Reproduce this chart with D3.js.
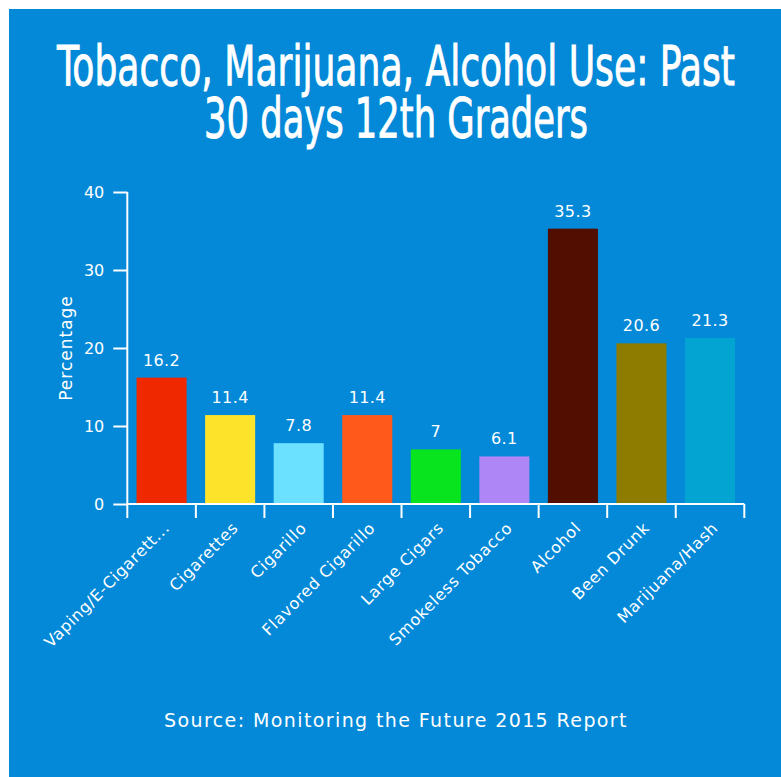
<!DOCTYPE html>
<html>
<head>
<meta charset="utf-8">
<script src="https://cdn.jsdelivr.net/npm/d3@7"></script>
<style>
  html, body { margin: 0; padding: 0; background: #ffffff; }
  svg { display: block; }
</style>
</head>
<body>
<svg id="chart" width="781" height="777"></svg>
<script>
// Past-30-day use among 12th graders, percent
const categories = [
  "Vaping/E-Cigarett...", "Cigarettes", "Cigarillo", "Flavored Cigarillo",
  "Large Cigars", "Smokeless Tobacco", "Alcohol", "Been Drunk", "Marijuana/Hash"
];
const values = [16.2, 11.4, 7.8, 11.4, 7, 6.1, 35.3, 20.6, 21.3];
const barColors = [
  "#f02800", "#fde42b", "#6ce0ff", "#ff5a1c", "#08e41e",
  "#ae86f6", "#520e00", "#8e7c00", "#03a4d2"
];
const yTicks = [0, 10, 20, 30, 40];
const titleLines = ["Tobacco, Marijuana, Alcohol Use: Past", "30 days 12th Graders"];
const yAxisTitle = "Percentage";
const sourceNote = "Source: Monitoring the Future 2015 Report";

const bg = "#0389d7";
const bodyFont = "'DejaVu Sans', sans-serif";
const titleFont = "'Liberation Sans Narrow', 'DejaVu Sans Condensed', sans-serif";

const svg = d3.select("#chart");

// blue panel
svg.append("rect")
  .attr("x", 9).attr("y", 9)
  .attr("width", 781 - 9).attr("height", 777 - 9)
  .attr("fill", bg);

// title: two centred lines, each squeezed horizontally to its width
const titleWidths = [678, 384];
titleLines.forEach((line, i) => {
  const t = svg.append("text")
    .attr("x", 0)
    .attr("y", 85 + i * 52)
    .attr("text-anchor", "middle")
    .attr("fill", "#ffffff")
    .attr("stroke", "#ffffff")
    .attr("stroke-width", 0.9)
    .attr("font-family", titleFont)
    .attr("font-size", 55)
    .text(line);
  const sx = titleWidths[i] / t.node().getComputedTextLength();
  t.attr("transform", `translate(396,0) scale(${sx},1)`);
});

// scales
const x = d3.scaleBand()
  .domain(categories)
  .range([127.3, 744.3])
  .paddingInner(0.27)
  .paddingOuter(0.135);

const y = d3.scaleLinear()
  .domain([0, 40])
  .range([504, 192]);

const plot = svg.append("g");

// bars
plot.selectAll("rect.bar")
  .data(values)
  .join("rect")
  .attr("class", "bar")
  .attr("x", (d, i) => x(categories[i]))
  .attr("width", x.bandwidth())
  .attr("y", d => y(d))
  .attr("height", d => y(0) - y(d))
  .attr("fill", (d, i) => barColors[i]);

// value labels above bars
plot.selectAll("text.value")
  .data(values)
  .join("text")
  .attr("class", "value")
  .attr("x", (d, i) => x(categories[i]) + x.bandwidth() / 2)
  .attr("y", d => y(d) - 12)
  .attr("text-anchor", "middle")
  .attr("fill", "#ffffff")
  .attr("font-family", bodyFont)
  .attr("font-size", 16)
  .attr("letter-spacing", 0.4)
  .text(d => d);

// y axis
const yAxis = d3.axisLeft(y)
  .tickValues(yTicks)
  .tickSize(14)
  .tickPadding(9);

const yg = svg.append("g")
  .attr("transform", "translate(127.3,0)")
  .call(yAxis);
yg.select(".domain").attr("stroke", "#ffffff").attr("stroke-width", 2)
  .attr("d", `M0,${y(40)}V${y(0)}`);
yg.selectAll(".tick line").attr("stroke", "#ffffff").attr("stroke-width", 2);
yg.selectAll(".tick text")
  .attr("fill", "#ffffff")
  .attr("font-family", bodyFont)
  .attr("font-size", 16);

// x axis: baseline with ticks on every band boundary
const step = x.step();
const boundaries = categories.map(c => x(c) - step * x.paddingInner() / 2)
  .concat([x.range()[1]]);
const xg = svg.append("g").attr("transform", `translate(0,${y(0)})`);
xg.append("line")
  .attr("x1", x.range()[0]).attr("x2", x.range()[1])
  .attr("stroke", "#ffffff").attr("stroke-width", 2);
xg.selectAll("line.tick")
  .data(boundaries)
  .join("line")
  .attr("class", "tick")
  .attr("x1", d => d).attr("x2", d => d)
  .attr("y1", 0).attr("y2", 14)
  .attr("stroke", "#ffffff").attr("stroke-width", 2);

// rotated category labels
xg.selectAll("text.cat")
  .data(categories)
  .join("text")
  .attr("class", "cat")
  .attr("transform", d => `translate(${x(d) + x.bandwidth() / 2 + 5},${21}) rotate(-45)`)
  .attr("text-anchor", "end")
  .attr("dy", "0.35em")
  .attr("fill", "#ffffff")
  .attr("font-family", bodyFont)
  .attr("font-size", 16)
  .attr("letter-spacing", 0.7)
  .text(d => d);

// y axis title
svg.append("text")
  .attr("transform", `translate(72,${(y(0) + y(40)) / 2}) rotate(-90)`)
  .attr("text-anchor", "middle")
  .attr("fill", "#ffffff")
  .attr("font-family", bodyFont)
  .attr("font-size", 17)
  .attr("letter-spacing", 1)
  .text(yAxisTitle);

// source note
svg.append("text")
  .attr("x", 396)
  .attr("y", 727)
  .attr("text-anchor", "middle")
  .attr("fill", "#ffffff")
  .attr("font-family", bodyFont)
  .attr("font-size", 19)
  .attr("letter-spacing", 1.4)
  .text(sourceNote);
</script>
</body>
</html>
